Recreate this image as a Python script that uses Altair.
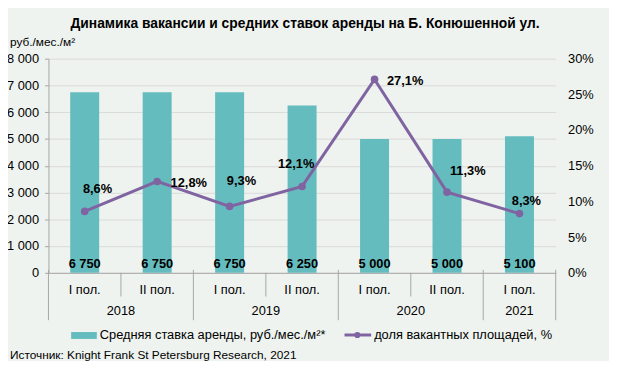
import altair as alt
import pandas as pd

# ---------------- data ----------------
halves = ["I пол.", "II пол.", "I пол.", "II пол.", "I пол.", "II пол.", "I пол."]
years = ["2018", "2018", "2019", "2019", "2020", "2020", "2021"]
rent = [6750, 6750, 6750, 6250, 5000, 5000, 5100]
vacancy = [8.6, 12.8, 9.3, 12.1, 27.1, 11.3, 8.3]
vacancy_text = ["8,6%", "12,8%", "9,3%", "12,1%", "27,1%", "11,3%", "8,3%"]
rent_ticks = [0, 1000, 2000, 3000, 4000, 5000, 6000, 7000, 8000]
pct_ticks = [0, 5, 10, 15, 20, 25, 30]

title_text = "Динамика вакансии и средних ставок аренды на Б. Конюшенной ул."
unit_text = "руб./мес./м²"
legend_bar = "Средняя ставка аренды, руб./мес./м²*"
legend_line = "доля вакантных площадей, %"
source_text = "Источник: Knight Frank St Petersburg Research, 2021"

# label nudges in pixels (style only)
label_dx = [13, 32, 12, -6, 31, 21, 7]
label_dy = [-23, 2, -26, -23, 2, -21, -13]

# ---------------- styling ----------------
W, H = 514, 217
FONT = "Liberation Sans"
BAR = "#65BCBE"
LINE = "#8064A2"
GRID = "#D9D9D9"
AX = "#A6A6A6"
BG = "#EEF3EF"

keys = [f"{y}|{h}" for y, h in zip(years, halves)]
df = pd.DataFrame({"key": keys, "half": halves, "year": years,
                   "rent": rent, "vac": vacancy, "vac_text": vacancy_text})
df["base"] = 0
one = alt.Data(values=[{"a": 1}])


def xenc(bp=None):
    kw = {}
    if bp is not None:
        kw["bandPosition"] = bp
    return alt.X("key:N", scale=alt.Scale(domain=keys, paddingInner=0, paddingOuter=0),
                 axis=alt.Axis(title=None, labelExpr="split(datum.label, '|')[1]",
                               labelAngle=0, ticks=False, labelPadding=11,
                               domainColor=AX, labelFontSize=13, labelColor="#000"),
                 **kw)


def yleft(field):
    return alt.Y(f"{field}:Q", scale=alt.Scale(domain=[0, 8000]),
                 axis=alt.Axis(title=None, values=rent_ticks,
                               labelExpr="replace(format(datum.value, ','), ',', ' ')",
                               grid=True, gridColor=GRID, domainColor=AX, tickColor=AX,
                               tickSize=4, labelPadding=6, labelFontSize=13, labelColor="#000"))


y_right = alt.Y("vac:Q", scale=alt.Scale(domain=[0, 30]),
                axis=alt.Axis(title=None, orient="right", values=pct_ticks,
                              labelExpr="datum.value + '%'", grid=False, domain=False,
                              ticks=False, labelPadding=12, labelFontSize=13, labelColor="#000"))

bars = alt.Chart(df).mark_bar(color=BAR, width=alt.RelativeBandSize(0.4)).encode(x=xenc(), y=yleft("rent"))
bar_text = alt.Chart(df).transform_calculate(
    rent_lbl="replace(format(datum.rent, ','), ',', ' ')"
).mark_text(
    font=FONT, fontSize=13, fontWeight="bold", baseline="alphabetic", dy=-5, color="#000"
).encode(x=xenc(), y=yleft("base"), text="rent_lbl:N")
bar_group = alt.layer(bars, bar_text)

line = alt.Chart(df).mark_line(color=LINE, strokeWidth=3).encode(x=xenc(), y=y_right)
pts = alt.Chart(df).mark_circle(color=LINE, size=60, opacity=1).encode(x=xenc(), y=y_right)
lbls = []
for i, k in enumerate(keys):
    lbls.append(
        alt.Chart(df).transform_filter(alt.datum.key == k).mark_text(
            font=FONT, fontSize=13, fontWeight="bold", baseline="middle",
            dx=label_dx[i], dy=label_dy[i], color="#000"
        ).encode(x=xenc(), y=y_right, text="vac_text:N")
    )
line_group = alt.layer(line, pts, *lbls)

# ---- category separators & year labels ----
first_of_year = [keys[i] for i in range(len(keys)) if i == 0 or years[i] != years[i - 1]]
inner = [keys[i] for i in range(len(keys)) if i > 0 and years[i] == years[i - 1]]
sep_long = alt.Chart(pd.DataFrame({"key": first_of_year})).mark_rule(color=AX).encode(
    x=xenc(0), y=alt.value(H - 3), y2=alt.value(H + 48))
sep_end = alt.Chart(pd.DataFrame({"key": [keys[-1]]})).mark_rule(color=AX).encode(
    x=xenc(1), y=alt.value(H - 3), y2=alt.value(H + 48))
sep_short = alt.Chart(pd.DataFrame({"key": inner})).mark_rule(color=AX).encode(
    x=xenc(0), y=alt.value(H), y2=alt.value(H + 24))

year_layers = []
counts = {}
for y in years:
    counts[y] = counts.get(y, 0) + 1
for n in sorted(set(counts.values())):
    ks = [keys[years.index(y)] for y in counts if counts[y] == n]
    ys = [y for y in counts if counts[y] == n]
    year_layers.append(
        alt.Chart(pd.DataFrame({"key": ks, "year": ys})).mark_text(
            font=FONT, fontSize=13, baseline="middle", color="#000"
        ).encode(x=xenc(n / 2), y=alt.value(H + 39), text="year:N")
    )


# ---- decorations ----
def txt(s, x, y, **kw):
    return alt.Chart(one).mark_text(text=s, font=FONT, color="#000", **kw).encode(
        x=alt.value(x), y=alt.value(y))


title = txt(title_text, 260, -35, fontSize=14, fontWeight="bold", align="center", baseline="middle")
unit = txt(unit_text, -39, -17, fontSize=12, align="left", baseline="middle")
leg_sw = alt.Chart(one).mark_rect(color=BAR).encode(
    x=alt.value(23), x2=alt.value(49), y=alt.value(277), y2=alt.value(284))
leg_t1 = txt(legend_bar, 52, 280, fontSize=13, align="left", baseline="middle")
leg_ln = alt.Chart(one).mark_rule(color=LINE, strokeWidth=3).encode(
    x=alt.value(300), x2=alt.value(327), y=alt.value(280))
leg_pt = alt.Chart(one).mark_circle(color=LINE, size=40, opacity=1).encode(
    x=alt.value(313), y=alt.value(280))
leg_t2 = txt(legend_line, 330, 280, fontSize=13, align="left", baseline="middle")
source = txt(source_text, -39, 300, fontSize=12, align="left", baseline="middle")

chart = alt.layer(
    bar_group, line_group, sep_long, sep_end, sep_short, *year_layers,
    title, unit, leg_sw, leg_t1, leg_ln, leg_pt, leg_t2, source
).resolve_scale(y="independent").properties(
    width=W, height=H, background=BG, autosize="none",
    padding={"left": 41, "top": 49, "right": 54, "bottom": 87}
).configure_view(stroke=None).configure_axis(labelFont=FONT)

chart.save("out.html", embed_options={"renderer": "svg", "actions": False})
